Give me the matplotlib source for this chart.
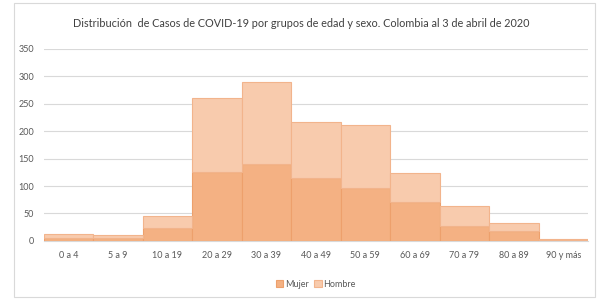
import matplotlib
matplotlib.use("Agg")
import matplotlib.pyplot as plt
from matplotlib.patches import Rectangle
import numpy as np

categorias = ["0 a 4", "5 a 9", "10 a 19", "20 a 29", "30 a 39", "40 a 49",
              "50 a 59", "60 a 69", "70 a 79", "80 a 89", "90 y más"]
mujer = [6, 5, 24, 125, 140, 115, 96, 71, 27, 18, 2]
hombre = [6, 5, 22, 136, 149, 101, 116, 52, 37, 15, 2]
yticks = [0, 50, 100, 150, 200, 250, 300, 350]

plt.rcParams['font.family'] = ['Lato', 'DejaVu Sans']

fig = plt.figure(figsize=(6, 3), dpi=100)
fig.patches.append(Rectangle((0.024, 0.01), 0.968, 0.98, transform=fig.transFigure,
                             fill=False, edgecolor='#D9D9D9', linewidth=0.8))
ax = fig.add_axes([0.073, 0.197, 0.907, 0.64])

x = np.arange(len(categorias))
c_m = '#F4B183'
c_h = '#F8CBAD'
edge = '#EDA06C'
ax.bar(x, mujer, width=1.0, color=c_m, edgecolor=edge, linewidth=0.8, label='Mujer', zorder=3)
ax.bar(x, hombre, width=1.0, bottom=mujer, color=c_h, edgecolor='#F2B48C', linewidth=0.8,
       label='Hombre', zorder=3)

ax.set_xlim(-0.5, len(categorias) - 0.5)
ax.set_ylim(0, 350)
ax.set_yticks(yticks)
ax.set_xticks(x)
ax.set_xticklabels(categorias)
ax.tick_params(axis='both', length=0, labelsize=6.5, colors='#595959', pad=7)
ax.grid(axis='y', color='#D9D9D9', linewidth=0.8, zorder=0)
for s in ['top', 'right', 'left']:
    ax.spines[s].set_visible(False)
ax.spines['bottom'].set_color('#D9D9D9')

fig.text(0.502, 0.922, "Distribución  de Casos de COVID-19 por grupos de edad y sexo. Colombia al 3 de abril de 2020",
         ha='center', va='center', fontsize=7.8, color='#404040')

leg = ax.legend(loc='upper center', bbox_to_anchor=(0.5, -0.16), ncol=2, frameon=False,
                fontsize=6.5, handlelength=0.8, handleheight=0.8, columnspacing=0.6,
                handletextpad=0.2, labelcolor='#595959')

fig.savefig("out.png", dpi=100)
